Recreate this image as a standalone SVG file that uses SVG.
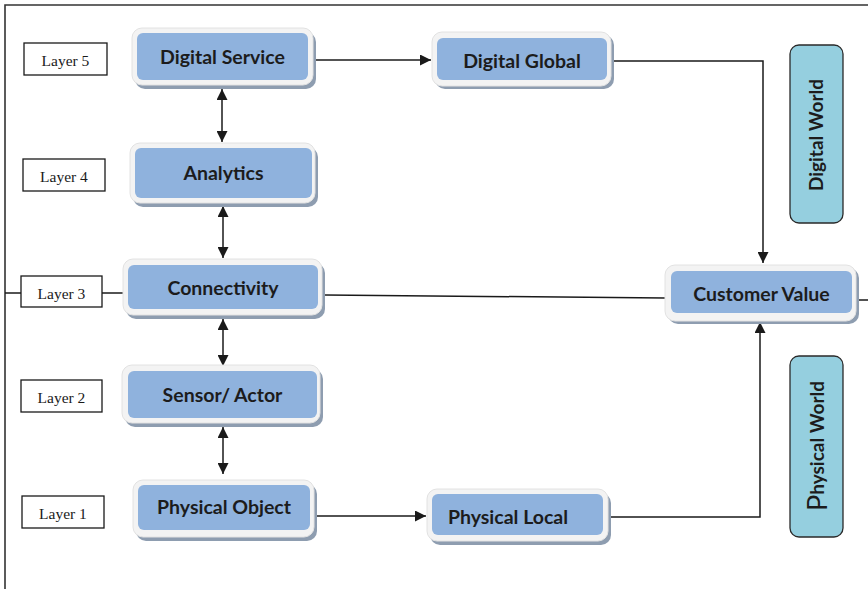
<svg xmlns="http://www.w3.org/2000/svg" width="868" height="589" viewBox="0 0 868 589">
<style>
.sh{fill:#8e9db0}
.out{fill:#f3f3f3;stroke:#e2e2e2;stroke-width:1}
.in{fill:#8fb2dd}
.lbl{font-family:Lato,"Open Sans","Liberation Sans",sans-serif;font-weight:bold;font-size:19.5px;fill:#1c1c1c;text-anchor:middle;dominant-baseline:central}
.lay{fill:#fff;stroke:#1a1a1a;stroke-width:1.3}
.lt{font-family:"Liberation Serif",serif;font-size:15.5px;fill:#1a1a1a;text-anchor:middle;dominant-baseline:central}
.world{fill:#95cfdf;stroke:#2a2a2a;stroke-width:1.3}
.wt{font-family:Lato,"Open Sans","Liberation Sans",sans-serif;font-weight:bold;font-size:19px;fill:#1c1c1c;text-anchor:middle;dominant-baseline:central}
.ln{fill:none;stroke:#1a1a1a;stroke-width:1.5}
</style>
<defs>
<marker id="ah2" viewBox="0 0 10 10" refX="10" refY="5" markerWidth="11" markerHeight="11" orient="auto-start-reverse" markerUnits="userSpaceOnUse">
<path d="M0,0 L10,5 L0,10 z" fill="#1a1a1a"/>
</marker>
</defs>
<rect width="868" height="589" fill="#fff"/>
<path d="M5,589 V5 H868" stroke="#333" stroke-width="1.6" fill="none"/>

<g id="connectors">
<line class="ln" x1="316" y1="60" x2="431" y2="60" marker-end="url(#ah2)"/>
<polyline class="ln" points="613,61 763,61 763,263" marker-end="url(#ah2)"/>
<line class="ln" x1="325" y1="295" x2="665" y2="298"/>
<line class="ln" x1="859" y1="300" x2="868" y2="300"/>
<line class="ln" x1="316" y1="516" x2="426" y2="516" marker-end="url(#ah2)"/>
<polyline class="ln" points="610,517 760,517 760,322" marker-end="url(#ah2)"/>
<line class="ln" x1="5" y1="293" x2="21" y2="293"/>
<line class="ln" x1="102" y1="293" x2="123" y2="293"/>
<line class="ln" x1="222" y1="89" x2="222" y2="142" marker-start="url(#ah2)" marker-end="url(#ah2)"/>
<line class="ln" x1="223" y1="206" x2="223" y2="258" marker-start="url(#ah2)" marker-end="url(#ah2)"/>
<line class="ln" x1="223" y1="319" x2="223" y2="366" marker-start="url(#ah2)" marker-end="url(#ah2)"/>
<line class="ln" x1="223" y1="427" x2="223" y2="474" marker-start="url(#ah2)" marker-end="url(#ah2)"/>
</g>

<g id="layer5"><rect class="lay" x="24" y="43" width="83" height="32"/><text class="lt" x="65.5" y="60">Layer 5</text></g>
<g id="layer4"><rect class="lay" x="23" y="159" width="82" height="32"/><text class="lt" x="64" y="176">Layer 4</text></g>
<g id="layer3"><rect class="lay" x="21" y="276" width="81" height="31"/><text class="lt" x="61.5" y="293">Layer 3</text></g>
<g id="layer2"><rect class="lay" x="21" y="380" width="81" height="32"/><text class="lt" x="61.5" y="397">Layer 2</text></g>
<g id="layer1"><rect class="lay" x="22" y="496" width="82" height="32"/><text class="lt" x="63" y="513">Layer 1</text></g>

<g id="digital-service">
<rect class="sh" x="135" y="32" width="181" height="57" rx="10"/>
<rect class="out" x="132" y="28" width="181" height="57" rx="10"/>
<rect class="in" x="137" y="33" width="171" height="47" rx="6"/>
<text class="lbl" x="222.5" y="56.5">Digital Service</text>
</g>
<g id="analytics">
<rect class="sh" x="133" y="147" width="185" height="60" rx="10"/>
<rect class="out" x="130" y="143" width="185" height="60" rx="10"/>
<rect class="in" x="135" y="148" width="177" height="50" rx="6"/>
<text class="lbl" x="223.5" y="172">Analytics</text>
</g>
<g id="connectivity">
<rect class="sh" x="126" y="263" width="199" height="56" rx="10"/>
<rect class="out" x="123" y="259" width="199" height="56" rx="10"/>
<rect class="in" x="128" y="265" width="190" height="44" rx="6"/>
<text class="lbl" x="223" y="287">Connectivity</text>
</g>
<g id="sensor-actor">
<rect class="sh" x="125" y="369" width="198" height="58" rx="10"/>
<rect class="out" x="122" y="365" width="198" height="58" rx="10"/>
<rect class="in" x="128" y="371" width="189" height="47" rx="6"/>
<text class="lbl" x="222.5" y="394">Sensor/ Actor</text>
</g>
<g id="physical-object">
<rect class="sh" x="136" y="484" width="181" height="57" rx="10"/>
<rect class="out" x="133" y="480" width="181" height="57" rx="10"/>
<rect class="in" x="138" y="485" width="172" height="45" rx="6"/>
<text class="lbl" x="224" y="506">Physical Object</text>
</g>
<g id="physical-local">
<rect class="sh" x="430" y="493" width="181" height="52" rx="10"/>
<rect class="out" x="427" y="489" width="181" height="52" rx="10"/>
<rect class="in" x="432" y="494" width="171" height="41" rx="6"/>
<text class="lbl" x="508" y="516">Physical Local</text>
</g>
<g id="digital-global">
<rect class="sh" x="435" y="35" width="179" height="54" rx="10"/>
<rect class="out" x="432" y="32" width="179" height="54" rx="10"/>
<rect class="in" x="437" y="38" width="170" height="42" rx="6"/>
<text class="lbl" x="522" y="60">Digital Global</text>
</g>
<g id="customer-value">
<rect class="sh" x="668" y="268" width="191" height="56" rx="10"/>
<rect class="out" x="665" y="265" width="191" height="56" rx="10"/>
<rect class="in" x="671" y="271" width="181" height="42" rx="6"/>
<text class="lbl" x="761.5" y="293">Customer Value</text>
</g>

<g id="digital-world">
<rect class="world" x="790" y="45" width="53" height="178" rx="9"/>
<text class="wt" transform="translate(815,135) rotate(-90)">Digital World</text>
</g>
<g id="physical-world">
<rect class="world" x="790" y="356" width="53" height="181" rx="9"/>
<text class="wt" transform="translate(816,446) rotate(-90)"><tspan style="font-size:27px;font-weight:normal">P</tspan>hysical World</text>
</g>
</svg>
